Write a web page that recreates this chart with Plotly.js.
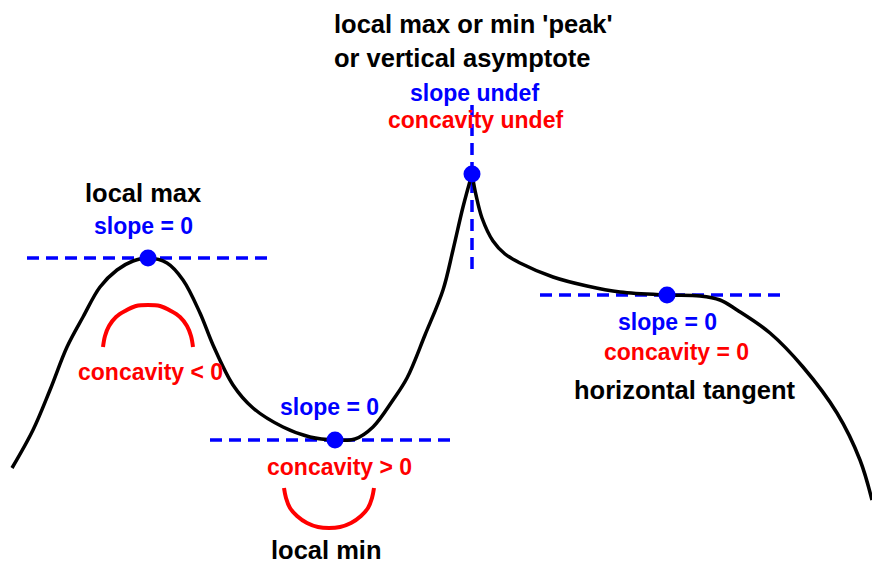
<!DOCTYPE html>
<html>
<head>
<meta charset="utf-8">
<script src="https://cdn.plot.ly/plotly-3.0.1.min.js"></script>
<style>html,body{margin:0;padding:0;background:#fff;}#chart{width:872px;height:563px;}</style>
</head>
<body>
<div id="chart"></div>
<script>
// Curve, left of the cusp (picture coordinates)
const curveLeftX = [12, 33, 50, 67, 83, 100, 117, 133, 148, 167, 183, 200, 213, 233, 253, 283, 310, 335, 355, 373, 393, 407, 425, 443, 453, 463, 472];
const curveLeftY = [468, 430, 390, 347, 317, 287, 270, 261, 258, 263, 280, 313, 345, 385, 408, 427, 437, 440, 439, 427, 400, 378, 335, 290, 250, 207, 174];
// Curve, right of the cusp
const curveRightX = [472, 476, 482, 493, 505, 520, 553, 587, 620, 667, 700, 720, 737, 770, 803, 837, 860, 872];
const curveRightY = [174, 195, 218, 241, 254, 263, 277, 286, 292, 295, 296, 300, 310, 333, 367, 413, 460, 500];

// Tangent / asymptote dashed lines
const tanMaxX = [27, 270], tanMaxY = [258, 258];
const tanMinX = [210, 453], tanMinY = [440, 440];
const vertX = [472, 472], vertY = [105, 272];
const tanFlatX = [540, 783], tanFlatY = [295, 295];

// Critical points
const pointX = [148, 335, 472, 667];
const pointY = [258, 440, 174, 295];

// Concavity arcs
const arcDownX = [103, 105, 109, 116, 125, 136, 148, 160, 171, 180, 187, 191, 193];
const arcDownY = [347, 336, 326, 317, 311, 306, 305, 306, 311, 317, 326, 336, 347];
const arcUpX = [284, 286, 290, 297, 307, 318, 329, 340, 351, 361, 368, 372, 374];
const arcUpY = [488, 498, 508, 516, 523, 527, 528, 527, 523, 516, 508, 498, 488];

// Labels
const labelText = ["local max", "slope = 0", "concavity < 0", "slope = 0", "concavity > 0", "local min",
  "local max or min 'peak'", "or vertical asymptote", "slope undef", "concavity undef",
  "slope = 0", "concavity = 0", "horizontal tangent"];
const labelX = [143, 143, 150, 329, 339, 326, 332, 332, 474, 475, 667, 676, 684];
const labelY = [193, 226, 372, 407, 467, 550, 24, 58, 93, 120, 322, 352, 390];
const labelKind = ["k", "b", "r", "b", "r", "k", "k", "k", "b", "r", "b", "r", "k"];
const labelAnchor = ["center", "center", "center", "center", "center", "center", "left", "left", "center", "center", "center", "center", "center"];

const BLUE = "#0000ff", RED = "#ff0000", BLACK = "#000000";
const FONT = "Liberation Sans, Arial, sans-serif";

const dashLine = {color: BLUE, width: 3.5, dash: "12px,7px"};
const traces = [
  {x: tanMaxX, y: tanMaxY, mode: "lines", line: dashLine},
  {x: tanMinX, y: tanMinY, mode: "lines", line: dashLine},
  {x: vertX, y: vertY, mode: "lines", line: dashLine},
  {x: tanFlatX, y: tanFlatY, mode: "lines", line: dashLine},
  {x: curveLeftX, y: curveLeftY, mode: "lines", line: {color: BLACK, width: 3.5, shape: "spline"}},
  {x: curveRightX, y: curveRightY, mode: "lines", line: {color: BLACK, width: 3.5, shape: "spline"}},
  {x: arcDownX, y: arcDownY, mode: "lines", line: {color: RED, width: 4, shape: "spline"}},
  {x: arcUpX, y: arcUpY, mode: "lines", line: {color: RED, width: 4, shape: "spline"}},
  {x: pointX, y: pointY, mode: "markers", marker: {color: BLUE, size: 17}}
];

const colorOf = {k: BLACK, b: BLUE, r: RED};
const sizeOf = {k: 25.5, b: 23, r: 23};
const annotations = labelText.map((t, i) => ({
  x: labelX[i], y: labelY[i], xref: "x", yref: "y", text: t, showarrow: false,
  xanchor: labelAnchor[i], yanchor: "middle",
  font: {family: FONT, size: sizeOf[labelKind[i]], color: colorOf[labelKind[i]], weight: "bold"}
}));

const layout = {
  width: 872, height: 563,
  margin: {l: 0, r: 0, t: 0, b: 0},
  paper_bgcolor: "#ffffff", plot_bgcolor: "#ffffff",
  showlegend: false,
  xaxis: {range: [0, 872], visible: false, fixedrange: true},
  yaxis: {range: [563, 0], visible: false, fixedrange: true},
  annotations: annotations
};

Plotly.newPlot("chart", traces, layout, {displayModeBar: false, staticPlot: true});
</script>
</body>
</html>
